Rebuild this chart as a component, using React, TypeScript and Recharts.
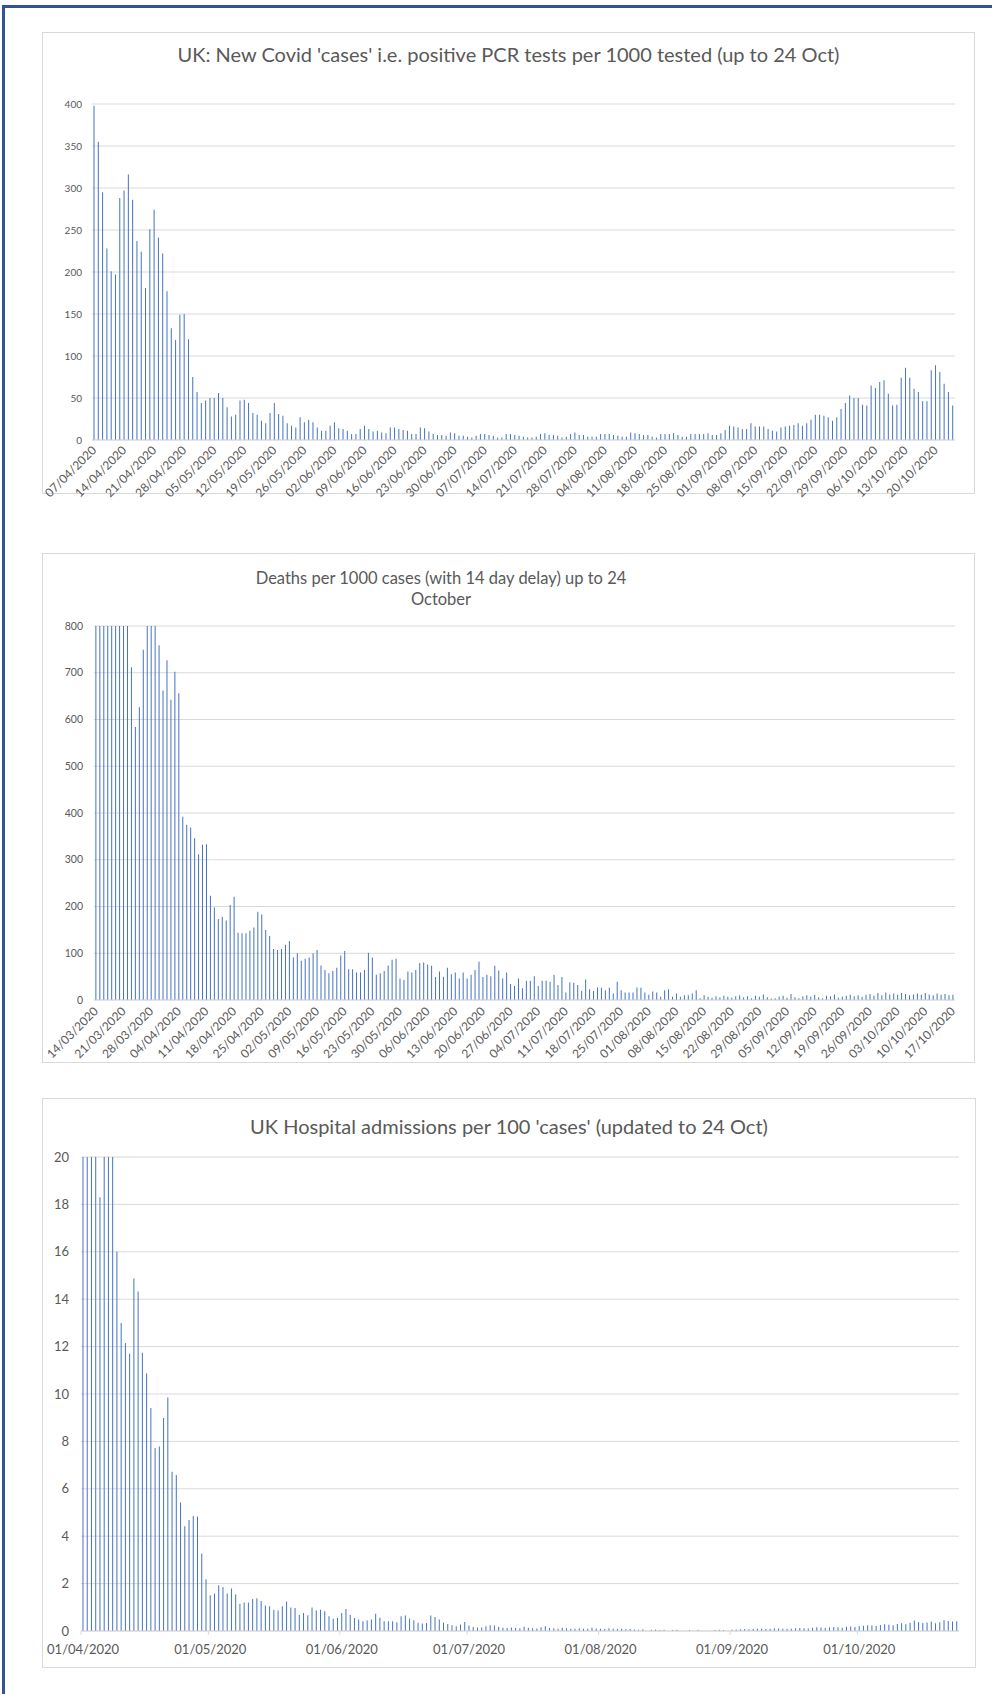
import React from "react";
import { Bar, BarChart, CartesianGrid, XAxis, YAxis } from "recharts";

const FONT = "Lato, 'Liberation Sans', sans-serif";
const GREY = "#595959";
const GRID = "#d9d9d9";
const BLUE = "#4472C4";

// chart 1: positive PCR tests per 1000 tested, daily from 07/04/2020
const casesStart = [2020, 4, 7];
const casesValues = [
  398, 355, 295, 228, 201, 197, 288, 297, 316, 286,
  237, 224, 181, 251, 274, 241, 222, 177, 133, 119,
  149, 150, 120, 75, 57, 44, 47, 50, 50, 56,
  50, 39, 28, 30, 47, 48, 44, 32, 30, 23,
  20, 32, 44, 31, 29, 20, 17, 15, 27, 21,
  24, 21, 15, 11, 11, 17, 21, 14, 13, 11,
  7, 7, 13, 17, 13, 10, 11, 9, 8, 15,
  15, 13, 12, 11, 7, 7, 15, 14, 10, 7,
  6, 6, 5, 9, 8, 5, 5, 4, 3, 5,
  7, 7, 6, 5, 3, 3, 7, 7, 6,
  5, 4, 3, 3, 4, 7, 8, 6, 6, 5,
  3, 4, 7, 9, 6, 6, 4, 4, 4, 7,
  7, 7, 6, 5, 4, 4, 9, 8, 7, 6,
  6, 4, 3, 7, 7, 7, 8, 6, 4, 4,
  7, 7, 7, 7, 8, 6, 6, 8, 12, 17,
  16, 15, 13, 13, 20, 16, 16, 16, 13, 11,
  10, 15, 16, 17, 18, 20, 17, 20, 24, 30,
  30, 29, 27, 23, 27, 37, 44, 53, 50, 50,
  42, 41, 65, 62, 69, 71, 55, 41, 42, 74,
  86, 74, 61, 57, 46, 46, 83, 89, 81, 67,
  57, 41,
];
const casesYTicks = [0, 50, 100, 150, 200, 250, 300, 350, 400];

// chart 2: deaths per 1000 cases, daily from 14/03/2020 (axis capped at 800)
const deathsStart = [2020, 3, 14];
const deathsValues = [
  1400, 1250, 1100, 1000, 950, 1050, 900, 1150, 880,
  712, 584, 626, 749, 850, 900, 820, 759, 662, 727, 642, 702,
  656, 392, 375, 369, 346, 312, 332, 333, 223, 198,
  173, 178, 170, 203, 221, 144, 143, 143, 148, 155,
  189, 183, 150, 137, 109, 107, 109, 118, 126, 91,
  100, 84, 88, 91, 100, 107, 74, 64, 57, 62,
  69, 95, 105, 66, 66, 59, 59, 64, 101, 91,
  54, 57, 62, 74, 86, 88, 46, 43, 61, 59,
  64, 79, 80, 76, 73, 49, 61, 50, 69, 55,
  59, 46, 59, 46, 54, 64, 82, 49, 54, 51, 73, 63,
  46, 59, 34, 30, 46, 25, 41, 41, 51, 30,
  41, 41, 39, 54, 32, 49, 16, 38, 37, 32,
  20, 44, 23, 19, 27, 26, 21, 26, 14, 39,
  21, 16, 16, 16, 27, 26, 16, 11, 18, 16,
  7, 21, 23, 7, 14, 7, 10, 10, 14, 21,
  4, 10, 7, 5, 8, 6, 9, 7, 5, 8,
  10, 6, 8, 4, 9, 7, 12, 6, 3, 4,
  7, 9, 5, 13, 6, 4, 8, 10, 7, 11,
  6, 4, 9, 8, 12, 5, 7, 9, 11, 8,
  10, 7, 11, 13, 9, 15, 10, 16, 12, 14,
  11, 15, 13, 10, 12, 14, 11, 15, 12, 10,
  14, 11, 13, 10, 11,
];
const deathsYTicks = [0, 100, 200, 300, 400, 500, 600, 700, 800];

// chart 3: hospital admissions per 100 cases, daily from 01/04/2020 (axis capped at 20)
const hospStart = [2020, 4, 1];
const hospValues = [
  30, 26, 24, 22, 18.3, 25, 23, 21,
  16.0, 13.0, 12.15, 11.7, 14.87, 14.33, 11.74, 10.86, 9.41, 7.72, 7.79, 8.99, 9.85,
  6.72, 6.58, 5.42, 4.42, 4.68, 4.85, 4.83, 3.27, 2.18, 1.51,
  1.58, 1.93, 1.86, 1.58, 1.79, 1.54, 1.15, 1.2, 1.2, 1.35,
  1.38, 1.27, 1.08, 1.04, 0.9, 0.87, 1.04, 1.25, 0.99, 0.97,
  0.69, 0.76, 0.66, 0.99, 0.87, 0.9, 0.83, 0.62, 0.52, 0.55,
  0.76, 0.93, 0.69, 0.55, 0.48, 0.41, 0.44, 0.49, 0.73, 0.56,
  0.41, 0.41, 0.41, 0.37, 0.62, 0.65, 0.52, 0.45, 0.35, 0.32,
  0.34, 0.65, 0.59, 0.49, 0.35, 0.3, 0.24, 0.2, 0.27, 0.38,
  0.23, 0.17, 0.15, 0.15, 0.2, 0.24, 0.23, 0.17, 0.14, 0.13,
  0.15, 0.13, 0.12, 0.18, 0.14, 0.12, 0.11, 0.16, 0.2, 0.13, 0.12, 0.1, 0.14, 0.12, 0.1,
  0.1, 0.12, 0.09, 0.1, 0.14, 0.11, 0.09, 0.08, 0.12, 0.1, 0.08, 0.09, 0.07, 0.08,
  0.06, 0.05, 0.07, 0, 0.05, 0.06, 0.04, 0.05, 0, 0.04, 0.05, 0, 0, 0.04, 0, 0.05,
  0, 0, 0, 0.04, 0.05, 0.04, 0, 0.05,
  0.06, 0.07, 0.08, 0.07, 0.08, 0.1, 0.09, 0.08, 0.1, 0.12, 0.11, 0.1, 0.09, 0.1, 0.12, 0.13, 0.12, 0.11,
  0.14, 0.16, 0.15, 0.13, 0.15, 0.17, 0.16, 0.14, 0.18, 0.19, 0.17, 0.2,
  0.22, 0.24, 0.23, 0.21, 0.25, 0.28, 0.26, 0.24, 0.3, 0.33, 0.29, 0.35, 0.44, 0.38,
  0.34, 0.36, 0.4, 0.33, 0.37, 0.45, 0.42, 0.4, 0.41,
];
const hospYTicks = [0, 2, 4, 6, 8, 10, 12, 14, 16, 18, 20];
const hospXTicks = ["01/04/2020", "01/05/2020", "01/06/2020", "01/07/2020", "01/08/2020", "01/09/2020", "01/10/2020"];

function daily(start: number[], values: number[]) {
  const pad = (n: number) => String(n).padStart(2, "0");
  return values.map((v, i) => {
    const d = new Date(Date.UTC(start[0], start[1] - 1, start[2] + i));
    return { date: `${pad(d.getUTCDate())}/${pad(d.getUTCMonth() + 1)}/${d.getUTCFullYear()}`, v };
  });
}

const casesData = daily(casesStart, casesValues);
const deathsData = daily(deathsStart, deathsValues);
const hospData = daily(hospStart, hospValues);

function SlantTick(props: any) {
  const { x, y, payload, size } = props;
  return (
    <text
      x={x}
      y={y}
      dy={size * 0.35}
      textAnchor="end"
      fontSize={size}
      fontFamily={FONT}
      fill={GREY}
      transform={`rotate(-45, ${x}, ${y})`}
    >
      {payload.value}
    </text>
  );
}

function MonthTick(props: any) {
  const { x, y, payload } = props;
  if (!hospXTicks.includes(payload.value)) return <g />;
  return (
    <g>
      <line x1={x - 2} x2={x - 2} y1={y} y2={y + 4} stroke={GRID} />
      <text x={x} y={y + 23} textAnchor="middle" fontSize={13} fontFamily={FONT} fill={GREY}>
        {payload.value}
      </text>
    </g>
  );
}

const box = (left: number, top: number, width: number, height: number): React.CSSProperties => ({
  position: "absolute",
  left,
  top,
  width,
  height,
  boxSizing: "border-box",
  border: `1px solid ${GRID}`,
  background: "#fff",
});

const titleStyle: React.CSSProperties = {
  position: "absolute",
  textAlign: "center",
  color: GREY,
  fontFamily: FONT,
  whiteSpace: "nowrap",
};

// extra room under each svg so the slanted labels are never clipped
const SPARE = 30;

export default function App() {
  return (
    <div style={{ position: "absolute", left: 0, top: 0, width: 992, height: 1694, background: "#fff", overflow: "hidden" }}>
      <div style={{ position: "absolute", left: 2, top: 5, width: 990, height: 3, background: "#2F5597" }} />
      <div style={{ position: "absolute", left: 2, top: 5, width: 3, height: 1689, background: "#2F5597" }} />

      <div style={box(42, 32, 933, 462)}>
        <div style={{ ...titleStyle, left: 0, width: 931, top: 10, fontSize: 20, lineHeight: "22px" }}>
          UK: New Covid 'cases' i.e. positive PCR tests per 1000 tested (up to 24 Oct)
        </div>
        <BarChart width={931} height={460 + SPARE} data={casesData} margin={{ top: 71, right: 19, bottom: SPARE, left: 9 }} barCategoryGap="35%">
          <CartesianGrid vertical={false} stroke={GRID} />
          <XAxis
            dataKey="date"
            interval={6}
            height={53}
            axisLine={{ stroke: GRID }}
            tickLine={false}
            tickSize={4}
            tickMargin={4}
            tick={(p: any) => <SlantTick {...p} size={12} />}
          />
          <YAxis
            width={40}
            domain={[0, 400]}
            ticks={casesYTicks}
            axisLine={false}
            tickLine={false}
            tickMargin={4}
            tick={{ fontSize: 10, fill: GREY, fontFamily: FONT }}
          />
          <Bar dataKey="v" fill={BLUE} isAnimationActive={false} />
        </BarChart>
      </div>

      <div style={box(42, 553, 933, 510)}>
        <div style={{ ...titleStyle, left: 148, width: 500, top: 14, fontSize: 16.5, lineHeight: "21px" }}>
          Deaths per 1000 cases (with 14 day delay) up to 24
          <br />
          October
        </div>
        <BarChart width={931} height={508 + SPARE} data={deathsData} margin={{ top: 72, right: 19, bottom: SPARE, left: 9 }} barCategoryGap="35%">
          <CartesianGrid vertical={false} stroke={GRID} />
          <XAxis
            dataKey="date"
            interval={6}
            height={62}
            axisLine={{ stroke: GRID }}
            tickLine={false}
            tickSize={4}
            tickMargin={5}
            tick={(p: any) => <SlantTick {...p} size={12} />}
          />
          <YAxis
            width={42}
            domain={[0, 800]}
            ticks={deathsYTicks}
            allowDataOverflow
            axisLine={false}
            tickLine={false}
            tickMargin={5}
            tick={{ fontSize: 10.5, fill: GREY, fontFamily: FONT }}
          />
          <Bar dataKey="v" fill={BLUE} isAnimationActive={false} />
        </BarChart>
      </div>

      <div style={box(42, 1098, 934, 570)}>
        <div style={{ ...titleStyle, left: 0, width: 932, top: 15, fontSize: 20, lineHeight: "24px" }}>
          UK Hospital admissions per 100 'cases' (updated to 24 Oct)
        </div>
        <BarChart width={932} height={568} data={hospData} margin={{ top: 58, right: 16, bottom: 0, left: 8 }} barCategoryGap="35%">
          <CartesianGrid vertical={false} stroke={GRID} />
          <XAxis
            dataKey="date"
            interval={0}
            height={36}
            axisLine={{ stroke: GRID }}
            tickLine={false}
            tickSize={0}
            tickMargin={0}
            tick={(p: any) => <MonthTick {...p} />}
          />
          <YAxis
            width={30}
            domain={[0, 20]}
            ticks={hospYTicks}
            allowDataOverflow
            axisLine={false}
            tickLine={false}
            tickMargin={6}
            tick={{ fontSize: 13, fill: GREY, fontFamily: FONT }}
          />
          <Bar dataKey="v" fill={BLUE} isAnimationActive={false} />
        </BarChart>
      </div>
    </div>
  );
}
